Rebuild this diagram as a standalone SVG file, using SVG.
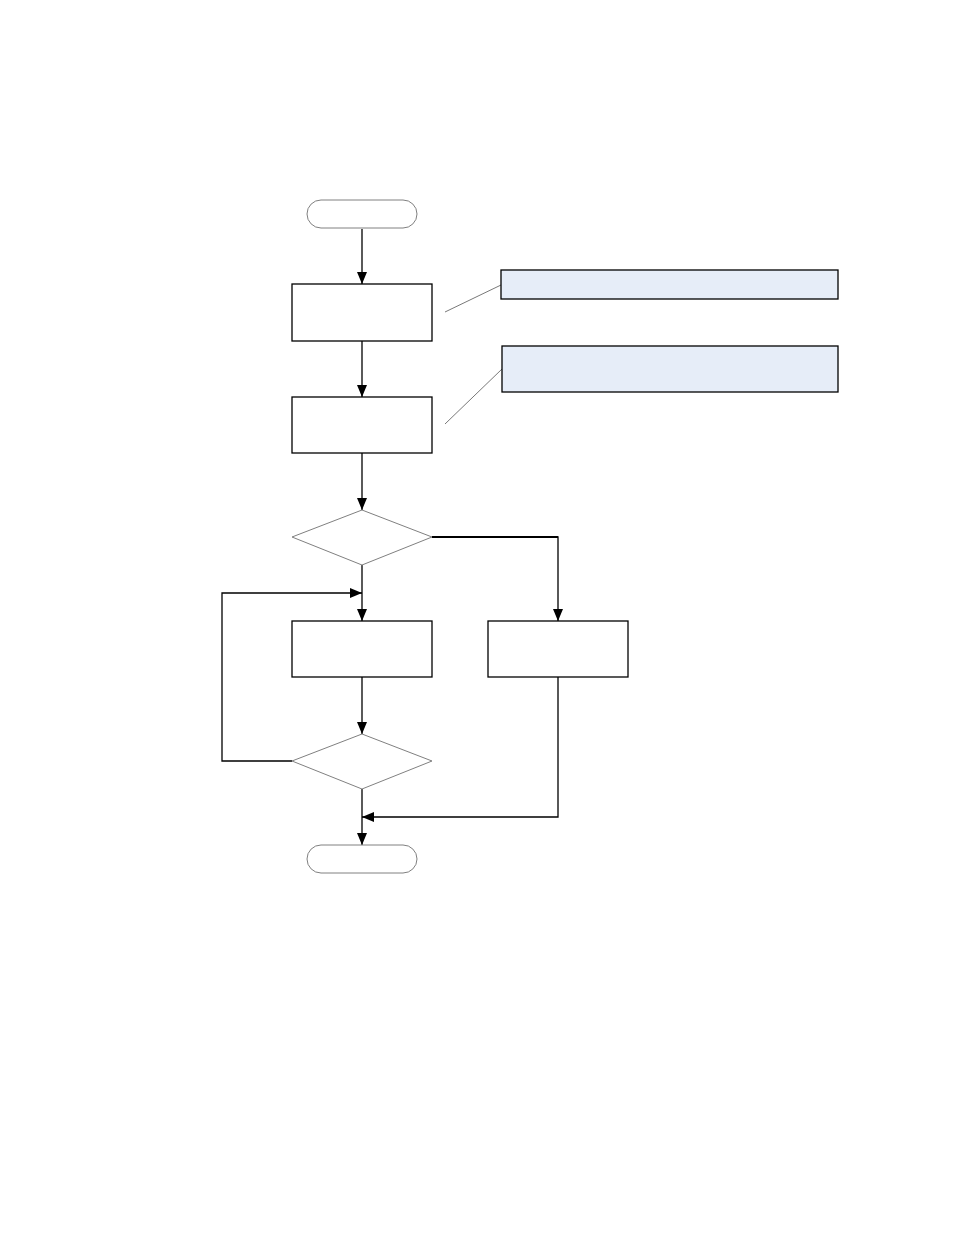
<svg xmlns="http://www.w3.org/2000/svg" width="954" height="1235" viewBox="0 0 954 1235">
<defs>
<style>
.term{fill:#fff;stroke:#808080;stroke-width:1}
.box{fill:#fff;stroke:#000;stroke-width:1.3}
.dia{fill:#fff;stroke:#808080;stroke-width:1}
.note{fill:#E6EDF8;stroke:#000;stroke-width:1.3}
.lead{fill:none;stroke:#555;stroke-width:0.8}
.conn{fill:none;stroke:#000;stroke-width:1.3}
</style>
<marker id="ah" viewBox="0 0 12 10" refX="12" refY="5" markerWidth="12" markerHeight="10" markerUnits="userSpaceOnUse" orient="auto">
<path d="M0,0 L12,5 L0,10 Z" fill="#000"/>
</marker>
</defs>
<rect width="954" height="1235" fill="#fff"/>
<g id="connectors">
<line class="conn" x1="362" y1="229" x2="362" y2="284" marker-end="url(#ah)"/>
<line class="conn" x1="362" y1="341" x2="362" y2="397" marker-end="url(#ah)"/>
<line class="conn" x1="362" y1="453" x2="362" y2="510" marker-end="url(#ah)"/>
<line class="conn" x1="362" y1="565" x2="362" y2="621" marker-end="url(#ah)"/>
<polyline class="conn" points="432,537 558,537 558,621" marker-end="url(#ah)" style="stroke-width:1.3"/>
<line x1="432" y1="537" x2="558" y2="537" stroke="#000" stroke-width="2"/>
<line class="conn" x1="362" y1="677" x2="362" y2="734" marker-end="url(#ah)"/>
<polyline class="conn" points="292,761 222,761 222,593 362,593" marker-end="url(#ah)"/>
<polyline class="conn" points="558,677 558,817 362,817" marker-end="url(#ah)"/>
<line class="conn" x1="362" y1="789" x2="362" y2="845" marker-end="url(#ah)"/>
<line class="lead" x1="445" y1="312" x2="501" y2="285"/>
<line class="lead" x1="445" y1="424" x2="502" y2="369"/>
</g>
<g id="start"><rect class="term" x="307" y="200" width="110" height="28" rx="14" ry="14"/></g>
<g id="box1"><rect class="box" x="292" y="284" width="140" height="57"/></g>
<g id="box2"><rect class="box" x="292" y="397" width="140" height="56"/></g>
<g id="decision1"><polygon class="dia" points="362,510 432,537 362,565 292,537"/></g>
<g id="box3"><rect class="box" x="292" y="621" width="140" height="56"/></g>
<g id="box4"><rect class="box" x="488" y="621" width="140" height="56"/></g>
<g id="decision2"><polygon class="dia" points="362,734 432,761 362,789 292,761"/></g>
<g id="end"><rect class="term" x="307" y="845" width="110" height="28" rx="14" ry="14"/></g>
<g id="note1"><rect class="note" x="501" y="270" width="337" height="29"/></g>
<g id="note2"><rect class="note" x="502" y="346" width="336" height="46"/></g>
</svg>
